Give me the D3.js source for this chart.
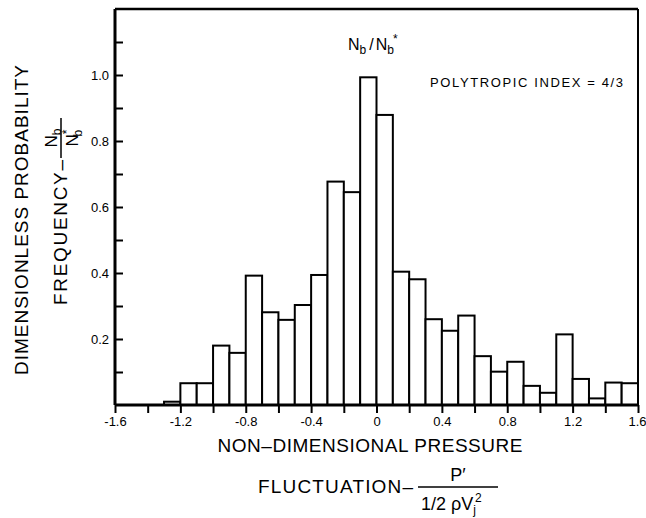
<!DOCTYPE html>
<html lang="en">
	<head>
		<meta charset="utf-8">
		<title>pressure fluctuation histogram</title>
		<script type="text/javascript" src="https://cdn.jsdelivr.net/npm/d3@7"></script>
		<style type="text/css">
			body { margin: 0; background: #fff; }
			text { font-family: "Liberation Sans", Arial, sans-serif; fill: #000; }
		</style>
	</head>

	<body>
		<script type="text/javascript">

		// chart width and height
		var w = 646;
		var h = 518;

		// left edge of each 0.1 wide bin
		var binLeft = [-1.3, -1.2, -1.1, -1.0, -0.9, -0.8, -0.7, -0.6, -0.5, -0.4,
			-0.3, -0.2, -0.1, 0.0, 0.1, 0.2, 0.3, 0.4, 0.5, 0.6,
			0.7, 0.8, 0.9, 1.0, 1.1, 1.2, 1.3, 1.4, 1.5];
		var binWidth = 0.1;

		// dimensionless probability frequency Nb/Nb*
		var freq = [0.010, 0.066, 0.066, 0.180, 0.158, 0.392, 0.281, 0.258, 0.303, 0.394,
			0.677, 0.645, 0.993, 0.879, 0.404, 0.381, 0.260, 0.225, 0.271, 0.148,
			0.101, 0.131, 0.058, 0.037, 0.214, 0.079, 0.020, 0.068, 0.066];

		// axis ticks
		var xTicks = [-1.6, -1.4, -1.2, -1.0, -0.8, -0.6, -0.4, -0.2, 0, 0.2, 0.4, 0.6, 0.8, 1.0, 1.2, 1.4, 1.6];
		var xLabels = [-1.6, -1.2, -0.8, -0.4, 0, 0.4, 0.8, 1.2, 1.6];
		var yTicks = [0.1, 0.2, 0.3, 0.4, 0.5, 0.6, 0.7, 0.8, 0.9, 1.0, 1.1];
		var yLabels = [0.2, 0.4, 0.6, 0.8, 1.0];

		var svg = d3.select("body")
			.append("svg")
			.attr("width", w)
			.attr("height", h);

		var x = d3.scaleLinear()
			.domain([-1.6, 1.6])
			.range([115, 638]);

		var y = d3.scaleLinear()
			.domain([0, 1.2])
			.range([405, 9]);

		// bars
		svg.append("g")
			.selectAll("rect")
			.data(binLeft)
			.enter()
			.append("rect")
			.attr("x", function(d) { return x(d); })
			.attr("y", function(d, i) { return y(freq[i]); })
			.attr("width", function(d) { return x(d + binWidth) - x(d); })
			.attr("height", function(d, i) { return y(0) - y(freq[i]); })
			.attr("fill", "#fff")
			.attr("stroke", "#000")
			.attr("stroke-width", 2);

		function hasLabel(list, d) {
			return list.some(function(v) { return Math.abs(v - d) < 1e-6; });
		}

		// x axis, ticks hanging down
		var xAxis = svg.append("g")
			.attr("transform", "translate(0," + y(0) + ")")
			.call(d3.axisBottom(x)
				.tickValues(xTicks)
				.tickSize(8)
				.tickPadding(4)
				.tickFormat(function(d) {
					if (!hasLabel(xLabels, d)) return "";
					return Math.abs(d) < 1e-6 ? "0" : d.toFixed(1);
				}));
		xAxis.select(".domain").remove();
		xAxis.selectAll("line").attr("stroke", "#000").attr("stroke-width", 2);
		xAxis.selectAll("text").attr("font-size", 13).attr("font-family", "Liberation Sans, Arial, sans-serif");
		// last label sits against the page edge
		xAxis.selectAll("text")
			.filter(function(d) { return d > 1.5; })
			.attr("text-anchor", "end")
			.attr("x", 8);

		// y axis, ticks pointing inward
		var yAxis = svg.append("g")
			.attr("transform", "translate(" + x(-1.6) + ",0)")
			.call(d3.axisLeft(y)
				.tickValues(yTicks)
				.tickSizeInner(-8)
				.tickSizeOuter(0)
				.tickPadding(6)
				.tickFormat(function(d) {
					return hasLabel(yLabels, d) ? d.toFixed(1) : "";
				}));
		yAxis.select(".domain").remove();
		yAxis.selectAll("line").attr("stroke", "#000").attr("stroke-width", 2);
		yAxis.selectAll("text").attr("font-size", 13).attr("font-family", "Liberation Sans, Arial, sans-serif");

		// frame
		var frame = svg.append("g").attr("stroke", "#000").attr("fill", "none");
		frame.append("line")
			.attr("x1", x(-1.6)).attr("x2", x(1.6))
			.attr("y1", y(0)).attr("y2", y(0))
			.attr("stroke-width", 3);
		frame.append("line")
			.attr("x1", x(-1.6)).attr("x2", x(-1.6))
			.attr("y1", y(1.2)).attr("y2", y(0))
			.attr("stroke-width", 3);
		frame.append("line")
			.attr("x1", x(-1.6)).attr("x2", x(1.6))
			.attr("y1", y(1.2)).attr("y2", y(1.2))
			.attr("stroke-width", 2.5);
		frame.append("line")
			.attr("x1", x(1.6)).attr("x2", x(1.6))
			.attr("y1", y(1.2)).attr("y2", y(0))
			.attr("stroke-width", 2);

		// Nb/Nb* caption over the peak
		var cap = svg.append("text")
			.attr("x", 348)
			.attr("y", 50)
			.attr("font-size", 16);
		cap.append("tspan").text("N");
		cap.append("tspan").attr("font-size", 12).attr("dy", 4).text("b");
		cap.append("tspan").attr("dy", -4).attr("dx", 3).text("/");
		cap.append("tspan").attr("dx", 2).text("N");
		cap.append("tspan").attr("font-size", 12).attr("dy", 4).text("b");
		cap.append("tspan").attr("font-size", 12).attr("dy", -11).attr("dx", -1).text("*");

		svg.append("text")
			.attr("x", 430)
			.attr("y", 87)
			.attr("font-size", 13)
			.attr("textLength", 193)
			.attr("lengthAdjust", "spacing")
			.text("POLYTROPIC  INDEX = 4/3");

		// y axis title
		svg.append("text")
			.attr("transform", "translate(28,220) rotate(-90)")
			.attr("text-anchor", "middle")
			.attr("font-size", 19)
			.attr("textLength", 310)
			.attr("lengthAdjust", "spacing")
			.text("DIMENSIONLESS  PROBABILITY");

		svg.append("text")
			.attr("transform", "translate(67,305) rotate(-90)")
			.attr("font-size", 19)
			.attr("textLength", 145)
			.attr("lengthAdjust", "spacing")
			.text("FREQUENCY\u2013");

		svg.append("line")
			.attr("x1", 61).attr("x2", 61)
			.attr("y1", 158).attr("y2", 118)
			.attr("stroke", "#000").attr("stroke-width", 1.5);

		var yNum = svg.append("text")
			.attr("transform", "translate(57,138) rotate(-90)")
			.attr("text-anchor", "middle")
			.attr("font-size", 17);
		yNum.append("tspan").text("N");
		yNum.append("tspan").attr("font-size", 12).attr("dy", 4).text("b");

		var yDen = svg.append("text")
			.attr("transform", "translate(78,138) rotate(-90)")
			.attr("text-anchor", "middle")
			.attr("font-size", 17);
		yDen.append("tspan").text("N");
		yDen.append("tspan").attr("font-size", 12).attr("dy", -7).text("*");
		yDen.append("tspan").attr("font-size", 12).attr("dx", -7).attr("dy", 11).text("b");

		// x axis title
		svg.append("text")
			.attr("x", 370)
			.attr("y", 452)
			.attr("text-anchor", "middle")
			.attr("font-size", 19)
			.attr("textLength", 305)
			.attr("lengthAdjust", "spacing")
			.text("NON\u2013DIMENSIONAL  PRESSURE");

		svg.append("text")
			.attr("x", 258)
			.attr("y", 493)
			.attr("font-size", 19)
			.attr("textLength", 155)
			.attr("lengthAdjust", "spacing")
			.text("FLUCTUATION\u2013");

		svg.append("line")
			.attr("x1", 418).attr("x2", 498)
			.attr("y1", 487).attr("y2", 487)
			.attr("stroke", "#000").attr("stroke-width", 1.5);

		svg.append("text")
			.attr("x", 458)
			.attr("y", 481)
			.attr("text-anchor", "middle")
			.attr("font-size", 18)
			.text("P\u2032");

		var xDen = svg.append("text")
			.attr("x", 421)
			.attr("y", 510)
			.attr("font-size", 18);
		xDen.append("tspan").text("1/2 \u03c1V");
		xDen.append("tspan").attr("font-size", 12).attr("dy", 4).text("j");
		xDen.append("tspan").attr("font-size", 12).attr("dy", -12).attr("dx", -1).text("2");

		</script>
	</body>
</html>
